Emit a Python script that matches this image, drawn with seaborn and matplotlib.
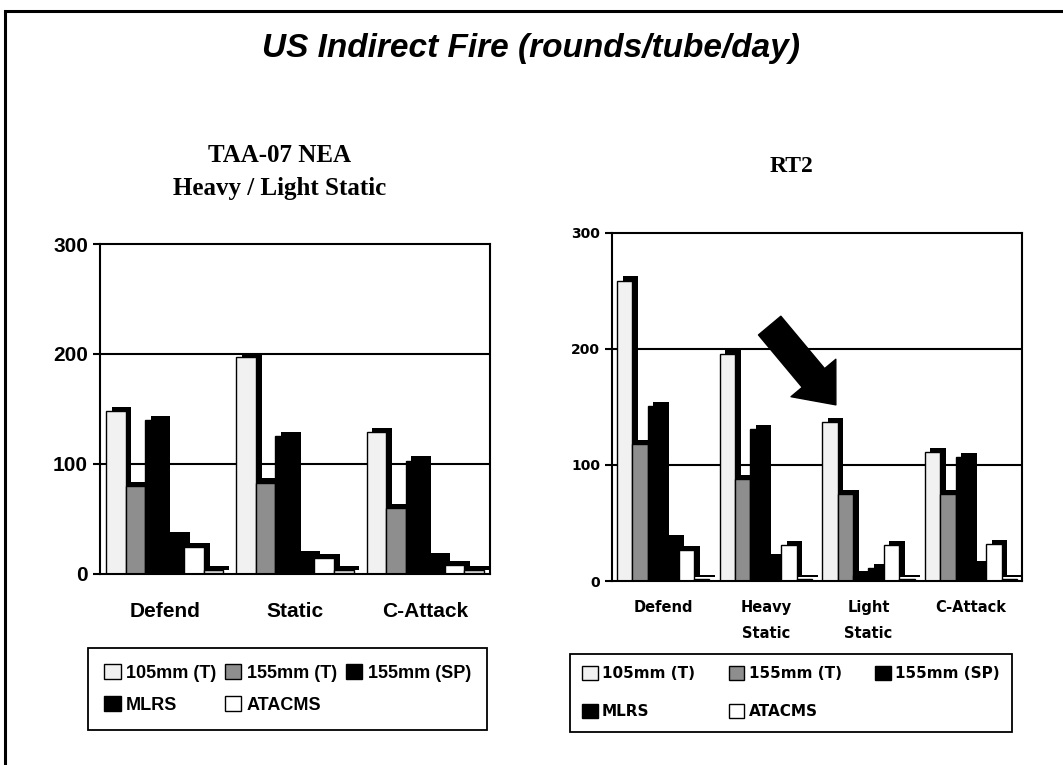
import numpy as np
import pandas as pd
import matplotlib
matplotlib.use("Agg")
import matplotlib.pyplot as plt
import matplotlib.patheffects as pe
from matplotlib.patches import Patch, Rectangle
import seaborn as sns

# dados (rounds/tube/day)
series = ['105mm (T)', '155mm (T)', '155mm (SP)', 'MLRS', 'ATACMS', 'Other']

taa_cats = ['Defend', 'Static', 'C-Attack']
taa_105t = [148, 197, 129]
taa_155t = [80, 83, 60]
taa_155sp = [140, 125, 103]
taa_mlrs = [34, 17, 15]
taa_atacms = [24, 14, 8]
taa_other = [3, 3, 3]

rt2_cats = ['Defend', 'Heavy\nStatic', 'Light\nStatic', 'C-Attack']
rt2_105t = [259, 196, 137, 111]
rt2_155t = [118, 88, 75, 75]
rt2_155sp = [151, 131, 5, 107]
rt2_mlrs = [36, 20, 11, 14]
rt2_atacms = [27, 31, 31, 32]
rt2_other = [2, 2, 2, 2]

cores = {'105mm (T)': '#f1f1f1', '155mm (T)': '#8e8e8e', '155mm (SP)': '#000000',
         'MLRS': '#000000', 'ATACMS': '#ffffff', 'Other': '#d6d6d6'}


def monta_df(cats, valores):
    linhas = []
    for s, vals in zip(series, valores):
        for c, v in zip(cats, vals):
            linhas.append({'cenario': c, 'arma': s, 'valor': v})
    return pd.DataFrame(linhas)


df_taa = monta_df(taa_cats, [taa_105t, taa_155t, taa_155sp, taa_mlrs, taa_atacms, taa_other])
df_rt2 = monta_df(rt2_cats, [rt2_105t, rt2_155t, rt2_155sp, rt2_mlrs, rt2_atacms, rt2_other])

sns.set_theme(style='white')
plt.rcParams['font.family'] = ['Liberation Sans', 'DejaVu Sans']
for k in ['text.color', 'axes.labelcolor', 'xtick.color', 'ytick.color']:
    plt.rcParams[k] = 'black'

fig = plt.figure(figsize=(10.63, 7.65), dpi=100)
ax1 = fig.add_axes([0.094, 0.250, 0.367, 0.431])
ax2 = fig.add_axes([0.5757, 0.2405, 0.386, 0.455])


def desenha(ax, df, cats):
    sns.barplot(data=df, x='cenario', y='valor', hue='arma', hue_order=series,
                palette=cores, order=cats, width=0.9, edgecolor='black',
                linewidth=1, ax=ax, legend=False)
    # efeito "3D" simples com sombra
    for p in ax.patches:
        p.set_path_effects([pe.SimplePatchShadow(offset=(4, 3), shadow_rgbFace='black', alpha=1.0),
                            pe.Normal()])
    ax.set_ylim(0, 300)
    ax.set_xlim(-0.5, len(cats) - 0.5)
    ax.set_yticks([0, 100, 200, 300])
    for y in [100, 200]:
        ax.axhline(y, color='black', lw=1.5, zorder=0)
    ax.set_xticks(np.arange(len(cats) + 1) - 0.5, minor=True)
    ax.tick_params(axis='x', which='major', length=0)
    ax.tick_params(axis='x', which='minor', length=6, width=1.5, direction='out', color='black')
    ax.tick_params(axis='y', length=5, width=1.5, direction='out', color='black', left=True)
    for s in ax.spines.values():
        s.set_color('black')
        s.set_linewidth(1.5)
    ax.set_xlabel('')
    ax.set_ylabel('')


desenha(ax1, df_taa, taa_cats)
desenha(ax2, df_rt2, rt2_cats)

# rótulos do gráfico da esquerda
for lab in ax1.get_yticklabels():
    lab.set_fontweight('bold')
    lab.set_fontsize(15)
ax1.set_xticks(range(len(taa_cats)))
ax1.set_xticklabels(taa_cats, fontsize=15, fontweight='bold')
ax1.tick_params(axis='x', which='major', pad=20)

# rótulos do gráfico da direita
for lab in ax2.get_yticklabels():
    lab.set_fontfamily('DejaVu Sans')
    lab.set_fontweight('bold')
    lab.set_fontsize(10)
ax2.set_xticks(range(len(rt2_cats)))
ax2.set_xticklabels(rt2_cats, fontsize=10.5, fontweight='bold', family='DejaVu Sans',
                    linespacing=1.9, va='top')
ax2.tick_params(axis='x', which='major', pad=14)

# seta apontando para Light Static
ax2.annotate('', xy=(1.70, 150), xytext=(1.02, 222),
             arrowprops=dict(arrowstyle='simple,head_length=0.9,head_width=1.5,tail_width=0.75',
                             fc='black', ec='black', mutation_scale=28))

# títulos
fig.text(0.5, 0.937, 'US Indirect Fire (rounds/tube/day)', ha='center', va='center',
         fontsize=24, fontweight='bold', fontstyle='italic')
fig.text(0.263, 0.775, 'TAA-07 NEA\nHeavy / Light Static', ha='center', va='center',
         fontsize=18, fontweight='bold', family='Liberation Serif', linespacing=1.55)
fig.text(0.745, 0.782, 'RT2', ha='center', va='center',
         fontsize=17, fontweight='bold', family='Liberation Serif')

# legendas (ordem para preencher por linhas)
ordem = ['105mm (T)', 'MLRS', '155mm (T)', 'ATACMS', '155mm (SP)']
handles = [Patch(facecolor=cores[s], edgecolor='black', label=s) for s in ordem]
h = 0.1
leg1 = fig.legend(handles=handles, loc='upper left', ncol=3, mode='expand',
                  bbox_to_anchor=(88 / 1063, 1 - 648 / 765 - h, (487 - 88) / 1063, h),
                  frameon=True, fancybox=False, framealpha=1, edgecolor='black',
                  borderaxespad=0, borderpad=0.9,
                  handlelength=0.9, handleheight=0.9, handletextpad=0.3,
                  columnspacing=0.8, labelspacing=0.8,
                  prop={'weight': 'bold', 'size': 13})
leg1.get_frame().set_linewidth(1.3)
leg2 = fig.legend(handles=handles, loc='upper left', ncol=3, mode='expand',
                  bbox_to_anchor=(570 / 1063, 1 - 654 / 765 - h, (1012 - 570) / 1063, h),
                  frameon=True, fancybox=False, framealpha=1, edgecolor='black',
                  borderaxespad=0, borderpad=0.8,
                  handlelength=1.0, handleheight=1.0, handletextpad=0.3,
                  columnspacing=0.6, labelspacing=1.5,
                  prop={'family': 'DejaVu Sans', 'weight': 'bold', 'size': 11})
leg2.get_frame().set_linewidth(1.3)

# moldura externa
fig.patches.append(Rectangle((5 / 1063, -0.2), 1.2, 1.2 - 11 / 765, transform=fig.transFigure,
                             fill=False, edgecolor='black', linewidth=2.2))

fig.savefig('out.png', dpi=100)
